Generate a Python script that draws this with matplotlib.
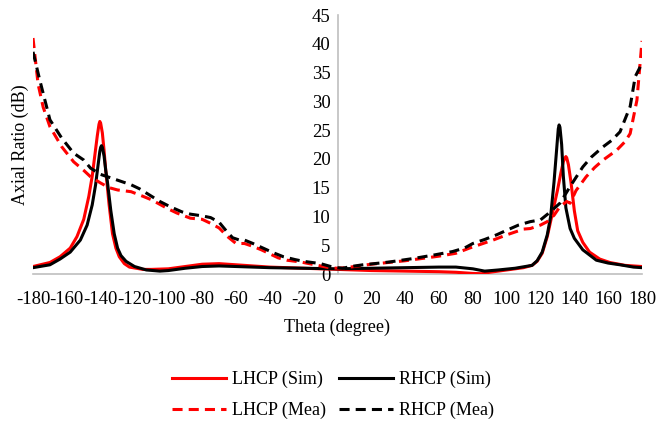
import matplotlib
matplotlib.use("Agg")
import matplotlib.pyplot as plt

plt.rcParams['font.family'] = ['Liberation Serif', 'DejaVu Serif']
plt.rcParams['axes.unicode_minus'] = False

# LHCP simulated
lhcp_sim_theta = [-180, -170, -164, -158, -154, -150, -147, -145, -143.5, -142, -141, -140.5, -140, -139, -138,
                  -137, -135, -133, -131, -129, -126, -123, -115, -110, -100, -90, -80, -70, -60, -50, -40,
                  -30, -20, -10, 0, 10, 20, 30, 40, 50, 60, 70, 80, 85, 90, 100, 110, 115, 118, 121, 124,
                  127, 130, 132, 133.5, 134.5, 135, 135.5, 136.5, 138, 140, 142, 145, 149, 155, 161, 170, 180]
lhcp_sim_ar = [1.3, 2.0, 3.0, 4.5, 6.5, 9.5, 13.5, 17, 20.5, 24, 26, 26.5, 26.2, 24.5, 21.5,
               18, 12, 7, 4.5, 3.0, 1.8, 1.2, 0.8, 0.8, 0.9, 1.3, 1.7, 1.8, 1.6, 1.4, 1.2,
               1.1, 1.0, 0.9, 0.8, 0.7, 0.6, 0.55, 0.5, 0.45, 0.4, 0.3, 0.1, 0.05, 0.3, 0.7, 1.1, 1.5, 2.2, 3.6, 6.5,
               10.5, 14.5, 17.5, 19.5, 20.2, 20.4, 20.2, 19, 16, 11, 7.5, 5.5, 3.8, 2.6, 2.0, 1.5, 1.3]

# RHCP simulated
rhcp_sim_theta = [-180, -170, -164, -158, -152, -148, -145, -143, -141.5, -140.5, -140, -139.5, -139, -138,
                  -137, -136, -134, -132, -130, -128, -125, -120, -113, -105, -100, -90, -80, -70, -60, -50,
                  -40, -20, 0, 20, 40, 60, 70, 80, 87, 95, 105, 115, 118, 121, 124, 126, 128, 129.5, 130.5,
                  131, 131.5, 132.5, 133.5, 135, 137.5, 140, 145, 153, 160, 167, 175, 180]
rhcp_sim_ar = [1.1, 1.6, 2.6, 3.8, 5.9, 8.5, 12, 15.5, 19, 21.3, 22, 22.3, 22, 20.5,
               18, 16, 11, 7, 4.5, 3.2, 2.2, 1.3, 0.7, 0.5, 0.6, 1.0, 1.3, 1.4, 1.3, 1.2,
               1.1, 1.0, 0.9, 1.0, 1.1, 1.2, 1.2, 0.9, 0.5, 0.7, 1.0, 1.5, 2.3, 3.8, 6.8, 10, 16, 21.5, 25.2,
               25.9, 25.5, 22.5, 17, 11.5, 7.9, 6.2, 4.2, 2.4, 1.9, 1.6, 1.2, 1.1]

# LHCP measured
lhcp_mea_theta = [-180, -177, -174, -170, -163, -156, -150, -146, -140, -135, -130, -122, -115, -110, -100,
                  -95, -87, -80, -75, -70, -65, -60, -55, -50, -45, -40, -35, -30, -22, -15, -10, -5, 0,
                  5, 10, 15, 20, 30, 40, 50, 60, 70, 78, 85, 92, 100, 105, 110, 114, 120, 124, 128, 131.5,
                  135.5, 137.5, 141, 147, 152, 157, 165, 170, 173, 177, 180]
lhcp_mea_ar = [41, 33, 29, 25.6, 22.1, 19.5, 18, 16.9, 15.8, 15, 14.6, 14.3, 13.5, 12.9, 11.3,
               10.6, 9.7, 9.5, 8.8, 8.0, 6.5, 5.3, 5.3, 4.8, 4.2, 3.5, 2.8, 2.4, 2.1, 1.7, 1.4, 1.1, 1.0,
               1.1, 1.3, 1.5, 1.7, 2.0, 2.3, 2.7, 3.1, 3.6, 4.5, 5.2, 5.9, 6.8, 7.3, 7.8, 7.9, 8.5, 9.1, 10.2, 11.7,
               12.6, 12.3, 14.5, 16.9, 18.5, 19.8, 21.5, 23, 24.4, 30.2, 40.5]

# RHCP measured
rhcp_mea_theta = [-180, -176, -170, -163, -156, -150, -146, -140, -133, -127, -122, -117, -111, -105, -99,
                  -92, -87, -80, -75, -70, -65.5, -62, -58, -55, -50, -44, -38, -32, -25, -20, -10, -4, 0,
                  3, 8, 15, 25, 31, 45, 57, 68, 75, 80, 87, 94, 100, 107, 114, 120, 124.6, 131.5, 137.5,
                  145, 150, 157, 162, 167, 173, 176, 180]
rhcp_mea_ar = [38.6, 33.7, 26.8, 23.6, 21, 19.8, 18.4, 17.3, 16.6, 16, 15.5, 14.8, 13.7, 12.6, 11.7,
               10.8, 10.4, 10.1, 9.8, 9.0, 7.4, 6.3, 5.9, 5.9, 5.3, 4.5, 3.7, 3.0, 2.5, 2.2, 1.8, 1.3, 1.1,
               1.0, 1.3, 1.6, 1.9, 2.1, 2.7, 3.3, 3.9, 4.5, 5.3, 6.0, 6.8, 7.6, 8.5, 9.1, 9.4, 10.5, 12.3, 15.2,
               18.6, 20.3, 22.1, 23.2, 24.7, 29.1, 34.3, 36.6]

x_ticks = list(range(-180, 181, 20))
y_ticks = list(range(0, 46, 5))

fig = plt.figure(figsize=(6.57, 4.23), dpi=100)
ax = fig.add_axes([33/657, 1 - 274/423, 609/657, 259/423])

lw = 2.2
dash = (0, (3.3, 2.0))
l1, = ax.plot(lhcp_sim_theta, lhcp_sim_ar, color='#FF0000', lw=lw, label='LHCP (Sim)', solid_joinstyle='round')
l2, = ax.plot(rhcp_sim_theta, rhcp_sim_ar, color='black', lw=lw, label='RHCP (Sim)', solid_joinstyle='round')
l3, = ax.plot(lhcp_mea_theta, lhcp_mea_ar, color='#FF0000', lw=lw, ls=dash, label='LHCP (Mea)')
l4, = ax.plot(rhcp_mea_theta, rhcp_mea_ar, color='black', lw=lw, ls=dash, label='RHCP (Mea)')

ax.set_xlim(-180, 180)
ax.set_ylim(0, 45)
ax.set_xticks(x_ticks)
ax.set_xticklabels([str(t) for t in x_ticks])
ax.set_yticks(y_ticks)
ax.set_yticklabels([str(t) for t in y_ticks])

for s in ['top', 'right']:
    ax.spines[s].set_visible(False)
ax.spines['left'].set_position(('data', 0))
ax.spines['left'].set_color('#BFBFBF')
ax.spines['left'].set_linewidth(1.2)
ax.spines['bottom'].set_color('#BFBFBF')
ax.spines['bottom'].set_linewidth(1.2)
ax.spines['left'].set_zorder(0)
ax.spines['bottom'].set_zorder(0)

ax.tick_params(axis='x', length=0, pad=12, labelsize=13.5)
ax.tick_params(axis='y', length=0, pad=5, labelsize=13.5)
ax.patch.set_visible(False)

fig.text(337/657, 1 - 327/423, 'Theta (degree)', ha='center', va='center', fontsize=13)
fig.text(20/657, 1 - 145/423, 'Axial Ratio (dB)', ha='center', va='center', rotation=90, fontsize=13)

fig.legend(handles=[l1, l3, l2, l4], labels=['LHCP (Sim)', 'LHCP (Mea)', 'RHCP (Sim)', 'RHCP (Mea)'],
           loc='center', bbox_to_anchor=(333/657, 1 - 395/423), ncol=2, frameon=False, fontsize=13,
           handlelength=3.0, handletextpad=0.35, columnspacing=0.7, labelspacing=0.75, borderpad=0.2)

fig.savefig('out.png', dpi=100)
